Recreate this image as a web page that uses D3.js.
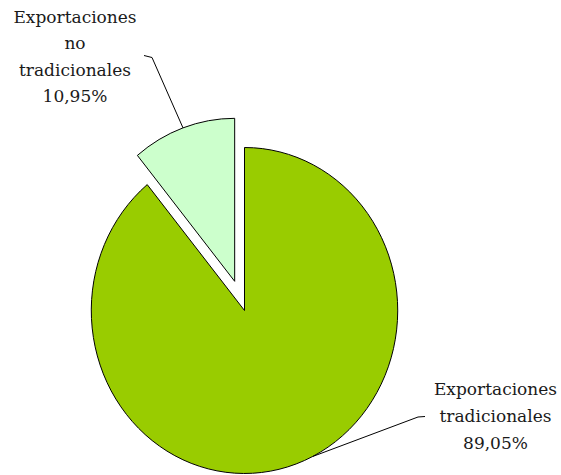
<!DOCTYPE html>
<html>
<head>
<meta charset="utf-8">
<script src="https://cdn.jsdelivr.net/npm/d3@7"></script>
<style>
  body { margin: 0; background: #fff; }
  svg { display: block; }
  text { font-family: "DejaVu Serif", serif; font-size: 17px; fill: #1a1a1a; }
</style>
</head>
<body>
<svg id="chart" width="561" height="475"></svg>
<script>
// slices; the first one sits just left of 12 o'clock
var categories = ["Exportaciones no tradicionales", "Exportaciones tradicionales"];
var values = [10.95, 89.05];
var labels = [["Exportaciones", "no", "tradicionales", "10,95%"],
              ["Exportaciones", "tradicionales", "89,05%"]];
var colors = ["#ccffcc", "#99cc00"];

var W = 561, H = 475,
    cx = 244.5, cy = 310.5,
    r = 163, sx = 0.94,   // pie is a bit squashed horizontally
    explode = 31;

var svg = d3.select("#chart");

var start = -2 * Math.PI * values[0] / d3.sum(values);
var pie = d3.pie().sort(null).value(function(d){ return d; })
    .startAngle(start).endAngle(start + 2 * Math.PI);
var arc = d3.arc().innerRadius(0).outerRadius(r);
var arcs = pie(values);

// a point on the (squashed) ellipse, angle from 12 o'clock clockwise
function pt(a, rad, ox, oy){
    return [cx + ox + Math.sin(a) * rad * sx, cy + oy - Math.cos(a) * rad];
}
function offset(d){
    if (d.index != 0) return [0, 0];
    var m = (d.startAngle + d.endAngle) / 2;
    return [Math.sin(m) * explode * sx, -Math.cos(m) * explode];
}

svg.selectAll("path.slice").data(arcs).enter().append("path")
    .attr("class", "slice")
    .attr("d", arc)
    .attr("fill", function(d){ return colors[d.index]; })
    .attr("stroke", "#000")
    .attr("stroke-width", 1)
    .attr("vector-effect", "non-scaling-stroke")
    .attr("transform", function(d){
        var o = offset(d);
        return "translate(" + (cx + o[0]) + "," + (cy + o[1]) + ") scale(" + sx + ",1)";
    });

// label boxes: center x, first baseline, line gap, leader elbow, anchor angle on the arc
var labelPos = [
    {x: 75, y: 22.5, lh: 26.5, elbow: [[144, 55.5], [152, 57.5]], angle: null},
    {x: 495.5, y: 395, lh: 27, elbow: [[425, 416.5], [418, 417]], angle: 153.6 * Math.PI / 180}
];

arcs.forEach(function(d, i){
    var lp = labelPos[i];
    var o = offset(d);
    var a = lp.angle === null ? (d.startAngle + d.endAngle) / 2 : lp.angle;
    var end = pt(a, r, o[0], o[1]);
    var pts = lp.elbow.concat([end]);
    svg.append("path")
        .attr("d", d3.line()(pts))
        .attr("fill", "none")
        .attr("stroke", "#000")
        .attr("stroke-width", 1);

    var t = svg.append("text")
        .attr("text-anchor", "middle")
        .attr("x", lp.x)
        .attr("y", lp.y);
    labels[i].forEach(function(s, k){
        t.append("tspan")
            .attr("x", lp.x)
            .attr("y", lp.y + k * lp.lh)
            .text(s);
    });
});
</script>
</body>
</html>
